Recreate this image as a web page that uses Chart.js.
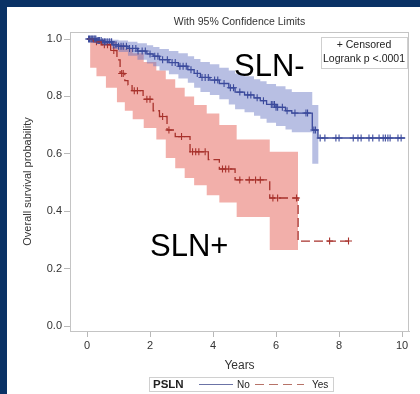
<!DOCTYPE html>
<html>
<head>
<meta charset="utf-8">
<script src="https://cdn.jsdelivr.net/npm/chart.js@4.4.1/dist/chart.umd.min.js"></script>
<style>
  html, body { margin: 0; padding: 0; background: #0a3265; width: 420px; height: 394px; overflow: hidden; }
  #wrap { position: absolute; left: 7px; top: 7px; width: 413px; height: 387px; background: #fff; }
  canvas { display: block; }
</style>
</head>
<body>
<div id="wrap"><canvas id="myChart" width="413" height="387"></canvas></div>
<script>
// Kaplan-Meier steps, PSLN = No
const noTimes = [0, 0.3, 0.5, 0.8, 1.0, 1.3, 1.6, 1.9, 2.1, 2.3, 2.6, 2.9, 3.2, 3.4, 3.6, 3.9, 4.2, 4.5, 4.7, 5.0, 5.3, 5.5, 5.7, 6.0, 6.3, 6.5, 7.15, 7.33, 10.1];
const noSurv  = [1.0, 0.995, 0.99, 0.98, 0.975, 0.967, 0.958, 0.948, 0.94, 0.928, 0.918, 0.905, 0.893, 0.88, 0.866, 0.857, 0.845, 0.83, 0.815, 0.805, 0.795, 0.785, 0.772, 0.762, 0.75, 0.742, 0.683, 0.655, 0.655];
const noBandTimes = [0, 0.3, 0.5, 0.8, 1.0, 1.3, 1.6, 1.9, 2.1, 2.3, 2.6, 2.9, 3.2, 3.4, 3.6, 3.9, 4.2, 4.5, 4.7, 5.0, 5.3, 5.5, 5.7, 6.0, 6.3, 6.5, 7.15, 7.35];
const noUpper = [1.0, 1.0, 1.0, 0.997, 0.995, 0.99, 0.985, 0.978, 0.972, 0.965, 0.958, 0.95, 0.94, 0.93, 0.92, 0.912, 0.9, 0.89, 0.88, 0.87, 0.86, 0.853, 0.843, 0.835, 0.825, 0.815, 0.77, 0.77];
const noLower = [1.0, 0.985, 0.978, 0.965, 0.955, 0.942, 0.928, 0.915, 0.905, 0.89, 0.877, 0.862, 0.848, 0.83, 0.815, 0.805, 0.79, 0.772, 0.755, 0.745, 0.733, 0.722, 0.708, 0.697, 0.685, 0.675, 0.565, 0.565];
const noCensored = [0.05, 0.08, 0.12, 0.15, 0.18, 0.22, 0.25, 0.28, 0.32, 0.36, 0.4, 0.45, 0.5, 0.55, 0.6, 0.66, 0.72, 0.78, 0.85, 0.92, 1.0, 1.08, 1.15, 1.25, 1.35, 1.45, 1.55, 1.62, 1.75, 1.85, 2.0, 2.15, 2.25, 2.4, 2.55, 2.7, 2.8, 2.95, 3.05, 3.15, 3.3, 3.5, 3.65, 3.75, 3.85, 4.05, 4.15, 4.35, 4.55, 4.65, 4.85, 5.1, 5.2, 5.4, 5.6, 5.85, 5.9, 5.95, 6.0, 6.05, 6.2, 6.35, 6.6, 6.95, 7.0, 7.2, 7.25, 7.4, 7.55, 7.9, 8.0, 8.45, 8.6, 8.7, 8.95, 9.07, 9.27, 9.4, 9.47, 9.55, 9.62, 9.87, 9.97];

// PSLN = Yes
const yesTimes = [0, 0.2, 0.45, 0.75, 0.95, 1.05, 1.2, 1.3, 1.43, 1.78, 2.1, 2.3, 2.54, 2.8, 3.27, 3.85, 4.2, 4.7, 5.8, 6.7, 8.35];
const yesSurv  = [1.0, 0.99, 0.98, 0.96, 0.927, 0.88, 0.855, 0.84, 0.82, 0.79, 0.75, 0.73, 0.683, 0.66, 0.607, 0.58, 0.547, 0.509, 0.446, 0.296, 0.296];
const yesBandTimes = [0, 0.1, 0.3, 0.6, 0.95, 1.2, 1.45, 1.8, 2.2, 2.5, 2.8, 3.1, 3.4, 3.8, 4.2, 4.75, 5.8, 6.7];
const yesUpper = [1.0, 1.0, 0.998, 0.99, 0.98, 0.965, 0.95, 0.92, 0.89, 0.86, 0.83, 0.8, 0.77, 0.74, 0.70, 0.65, 0.607, 0.607];
const yesLower = [1.0, 0.9, 0.87, 0.83, 0.78, 0.75, 0.72, 0.69, 0.65, 0.585, 0.55, 0.516, 0.49, 0.456, 0.43, 0.38, 0.265, 0.265];
const yesCensored = [0.3, 0.55, 0.65, 0.85, 1.1, 1.15, 1.5, 1.6, 1.9, 2.0, 2.4, 2.6, 3.0, 3.35, 3.45, 3.55, 3.75, 4.3, 4.4, 4.5, 4.85, 5.15, 5.35, 5.5, 5.9, 6.05, 6.65, 7.7, 8.3];

const xTicks = [0, 2, 4, 6, 8, 10];
const yTicks = [0, 0.2, 0.4, 0.6, 0.8, 1.0];

const blueLine = '#3b4a9c';
const redLine = '#a8322c';
const fontFam = '"Liberation Sans", Arial, sans-serif';

function pts(times, vals) {
  return times.map((t, i) => ({ x: t, y: vals[i] }));
}
// survival value at time t (last step at or before t)
function survAt(times, vals, t) {
  let v = vals[0];
  for (let i = 0; i < times.length; i++) {
    if (times[i] <= t) v = vals[i];
  }
  return v;
}
function censorPts(cens, times, vals) {
  return cens.map(t => ({ x: t, y: survAt(times, vals, t) }));
}

const extras = {
  id: 'extras',
  afterDraw(chart) {
    const ctx = chart.ctx;
    const a = chart.chartArea;
    ctx.save();
    // plot frame
    ctx.strokeStyle = '#c4c4c4';
    ctx.lineWidth = 1;
    ctx.strokeRect(a.left + 0.5, a.top + 0.5, a.right - a.left - 1, a.bottom - a.top);

    // title
    ctx.fillStyle = '#333';
    ctx.font = '10.5px ' + fontFam;
    ctx.textAlign = 'center';
    ctx.textBaseline = 'middle';
    ctx.fillText('With 95% Confidence Limits', (a.left + a.right) / 2, 15);

    // inset box
    ctx.strokeStyle = '#cfcfcf';
    ctx.strokeRect(314.5, 30.5, 86, 31);
    ctx.fillStyle = '#222';
    ctx.font = '10.5px ' + fontFam;
    ctx.fillText('+ Censored', 357, 38.5);
    ctx.fillText('Logrank p <.0001', 357, 52.5);

    // group labels
    ctx.fillStyle = '#000';
    ctx.font = '31px ' + fontFam;
    ctx.textAlign = 'left';
    ctx.textBaseline = 'alphabetic';
    ctx.fillText('SLN-', 227, 69);
    ctx.fillText('SLN+', 143, 249);

    // legend
    ctx.strokeStyle = '#d0d0d0';
    ctx.strokeRect(142.5, 370.5, 184, 14);
    ctx.fillStyle = '#222';
    ctx.textBaseline = 'middle';
    ctx.font = 'bold 11.5px ' + fontFam;
    ctx.fillText('PSLN', 146, 378);
    ctx.font = '10px ' + fontFam;
    ctx.fillText('No', 230, 378);
    ctx.fillText('Yes', 305, 378);
    ctx.lineWidth = 1;
    ctx.strokeStyle = '#6b73a6';
    ctx.beginPath(); ctx.moveTo(192, 377.5); ctx.lineTo(226, 377.5); ctx.stroke();
    ctx.strokeStyle = '#b77368';
    ctx.setLineDash([9, 5]);
    ctx.beginPath(); ctx.moveTo(248, 377.5); ctx.lineTo(297, 377.5); ctx.stroke();
    ctx.restore();
  }
};

const data = {
  datasets: [
    { label: 'No', data: pts(noTimes, noSurv), borderColor: blueLine, borderWidth: 1.3, stepped: 'before', pointRadius: 0, fill: false },
    { label: 'Yes', data: pts(yesTimes, yesSurv), borderColor: redLine, borderWidth: 1.3, borderDash: [9, 4], stepped: 'before', pointRadius: 0, fill: false },
    { label: 'No censored', data: censorPts(noCensored, noTimes, noSurv), showLine: false, pointStyle: 'cross', pointRadius: 3.5, borderColor: blueLine, pointBorderWidth: 1.1, fill: false },
    { label: 'Yes censored', data: censorPts(yesCensored, yesTimes, yesSurv), showLine: false, pointStyle: 'cross', pointRadius: 3.5, borderColor: redLine, pointBorderWidth: 1.1, fill: false },
    { label: 'No upper', data: pts(noBandTimes, noUpper), borderWidth: 0, borderColor: 'rgba(0,0,0,0)', stepped: 'before', pointRadius: 0, fill: '+1', backgroundColor: 'rgba(98,112,192,0.45)' },
    { label: 'No lower', data: pts(noBandTimes, noLower), borderWidth: 0, borderColor: 'rgba(0,0,0,0)', stepped: 'before', pointRadius: 0, fill: false },
    { label: 'Yes upper', data: pts(yesBandTimes, yesUpper), borderWidth: 0, borderColor: 'rgba(0,0,0,0)', stepped: 'before', pointRadius: 0, fill: '+1', backgroundColor: 'rgba(228,88,78,0.48)' },
    { label: 'Yes lower', data: pts(yesBandTimes, yesLower), borderWidth: 0, borderColor: 'rgba(0,0,0,0)', stepped: 'before', pointRadius: 0, fill: false }
  ]
};

const config = {
  type: 'line',
  data: data,
  options: {
    responsive: false,
    devicePixelRatio: 1,
    animation: false,
    layout: { padding: { left: 0, right: 11, top: 25, bottom: 0 } },
    plugins: {
      legend: { display: false },
      tooltip: { enabled: false },
      filler: { propagate: false }
    },
    scales: {
      x: {
        type: 'linear',
        min: -0.54,
        max: 10.22,
        afterBuildTicks: (s) => { s.ticks = xTicks.map(v => ({ value: v })); },
        afterFit: (s) => { s.height = 63; },
        grid: { drawOnChartArea: false, tickLength: 6, color: '#b8b8b8' },
        border: { color: '#c4c4c4' },
        ticks: { padding: 2, color: '#333', font: { size: 11, family: fontFam }, callback: (v) => String(v) },
        title: { display: true, text: 'Years', color: '#333', font: { size: 12, family: fontFam }, padding: { top: 0, bottom: 21 } }
      },
      y: {
        min: -0.0174,
        max: 1.0244,
        afterBuildTicks: (s) => { s.ticks = yTicks.map(v => ({ value: v })); },
        afterFit: (s) => { s.width = 63; },
        grid: { drawOnChartArea: false, tickLength: 6, color: '#b8b8b8' },
        border: { color: '#c4c4c4' },
        ticks: { padding: 2, color: '#333', font: { size: 11, family: fontFam }, callback: (v) => v.toFixed(1) },
        title: { display: true, text: 'Overall survival probability', color: '#333', font: { size: 11, family: fontFam }, padding: { top: 14, bottom: 0 } }
      }
    }
  },
  plugins: [extras]
};

const myChart = new Chart(document.getElementById('myChart'), config);
</script>
</body>
</html>
